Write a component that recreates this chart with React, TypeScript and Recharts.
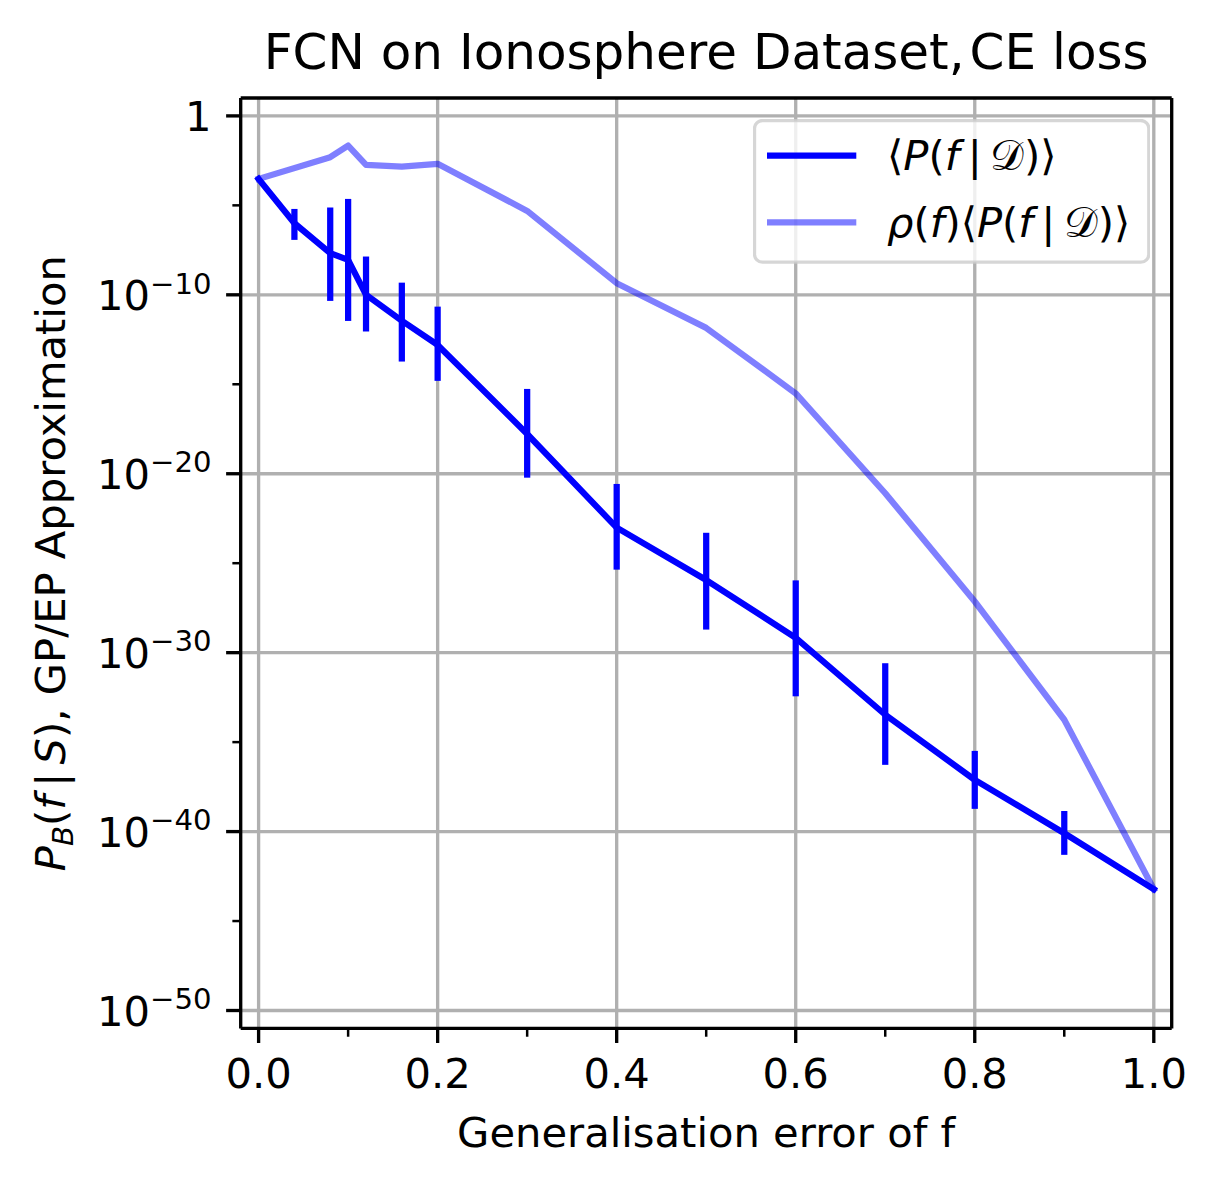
import React from 'react';
import { LineChart, Line, XAxis, YAxis, ErrorBar, ReferenceLine, Legend, Customized } from 'recharts';

// ---- data (y values are log10 of the probability) ----
const errorRate = [0, 0.04, 0.08, 0.1, 0.12, 0.16, 0.2, 0.3, 0.4, 0.5, 0.6, 0.7, 0.8, 0.9, 1.0];
const meanLogP = [-3.52, -6.0, -7.67, -8.05, -10.0, -11.45, -12.8, -17.78, -23.01, -25.94, -29.17, -33.47, -37.11, -40.09, -43.22];
const errTopLogP = [null, -5.2, -5.12, -4.64, -7.86, -9.32, -10.66, -15.26, -20.57, -23.3, -25.96, -30.59, -35.49, -38.85, null];
const errBottomLogP = [null, -6.93, -10.34, -11.46, -12.05, -13.73, -14.81, -20.22, -25.36, -28.71, -32.44, -36.27, -38.73, -41.3, null];
const rhoLogP = [-3.52, null, -2.31, -1.66, -2.74, -2.83, -2.68, -5.31, -9.35, -11.85, -15.51, -21.09, -27.14, -33.75, -43.22];

const xTicks = [0, 0.1, 0.2, 0.3, 0.4, 0.5, 0.6, 0.7, 0.8, 0.9, 1.0];
const xMajorTicks = [0, 0.2, 0.4, 0.6, 0.8, 1.0];
const yTicks = [0, -5, -10, -15, -20, -25, -30, -35, -40, -45, -50];
const yMajorTicks = [0, -10, -20, -30, -40, -50];

const title = 'FCN on Ionosphere Dataset,\u200aCE loss';
const xLabel = 'Generalisation error of f';

const data = errorRate.map((x, i) => {
  const top = errTopLogP[i];
  const bottom = errBottomLogP[i];
  return {
    x,
    mean: meanLogP[i],
    rho: rhoLogP[i],
    err: top == null || bottom == null ? undefined : [meanLogP[i] - bottom, top - meanLogP[i]],
  };
});

// ---- layout ----
const FONT = '"DejaVu Sans", sans-serif';
const PT = 300 / 72;
const TICK_FS = 10 * PT;
const TITLE_FS = 12 * PT;
const W = 1200;
const H = 1173;
const M_TOP = 90;
const M_RIGHT = 36.3;
const Y_AXIS_W = 232.7;
const X_AXIS_H = 152.6;
const PLOT_L = Y_AXIS_W;
const PLOT_R = W - M_RIGHT;
const PLOT_T = M_TOP;
const PLOT_B = H - X_AXIS_H;
const PLOT_CX = (PLOT_L + PLOT_R) / 2;
const PLOT_CY = (PLOT_T + PLOT_B) / 2;

const BLUE = '#0000ff';
const GRID = '#b0b0b0';
const SPINE_W = 0.8 * PT;
const LINE_W = 1.5 * PT;
const MAJOR_LEN = 3.5 * PT;
const MINOR_LEN = 2 * PT;

const XTick = (props: any) => {
  const { x, y, payload } = props;
  const v = payload.value;
  const major = xMajorTicks.some((m) => Math.abs(m - v) < 1e-9);
  return (
    <g>
      <line x1={x} x2={x} y1={y} y2={y + (major ? MAJOR_LEN : MINOR_LEN)} stroke="#000" strokeWidth={major ? SPINE_W : 0.6 * PT} />
      {major && (
        <text x={x} y={y + 2 * MAJOR_LEN + 30.4} textAnchor="middle" fontFamily={FONT} fontSize={TICK_FS} fill="#000">
          {v.toFixed(1)}
        </text>
      )}
    </g>
  );
};

const YTick = (props: any) => {
  const { x, y, payload } = props;
  const v = payload.value;
  const major = yMajorTicks.includes(v);
  return (
    <g>
      <line x1={x - (major ? MAJOR_LEN : MINOR_LEN)} x2={x} y1={y} y2={y} stroke="#000" strokeWidth={major ? SPINE_W : 0.6 * PT} />
      {major && (
        <text x={x - 2 * MAJOR_LEN} y={y + 15.4} textAnchor="end" fontFamily={FONT} fontSize={TICK_FS} fill="#000">
          {v === 0 ? (
            '1'
          ) : (
            <>
              <tspan>10</tspan>
              <tspan fontSize={TICK_FS * 0.7} dy={-16.7}>{'\u2212' + Math.abs(v)}</tspan>
            </>
          )}
        </text>
      )}
    </g>
  );
};

const Texts = () => (
  <g>
    <text x={PLOT_CX} y={61} textAnchor="middle" fontFamily={FONT} fontSize={TITLE_FS} fill="#000">
      {title}
    </text>
    <text x={PLOT_CX} y={1139} textAnchor="middle" fontFamily={FONT} fontSize={TICK_FS} fill="#000">
      {xLabel}
    </text>
    <text
      x={57}
      y={PLOT_CY}
      transform={`rotate(-90, 57, ${PLOT_CY})`}
      textAnchor="middle"
      fontFamily={FONT}
      fontSize={TICK_FS}
      fill="#000"
    >
      <tspan fontStyle="italic">P</tspan>
      <tspan fontStyle="italic" fontSize={TICK_FS * 0.7} dy={8}>B</tspan>
      <tspan dy={-8}>(</tspan>
      <tspan fontStyle="italic">f</tspan>
      <tspan>{'\u2009|\u2009'}</tspan>
      <tspan fontStyle="italic">S</tspan>
      <tspan>), GP/EP Approximation</tspan>
    </text>
  </g>
);

const LEG_W = 397.3;
const LEG_H = 144.7;

const LegendBox = () => (
  <svg width={LEG_W} height={LEG_H} style={{ display: 'block' }}>
    <rect x={1.5} y={1.5} width={LEG_W - 3} height={LEG_H - 3} rx={8} ry={8} fill="#ffffff" fillOpacity={0.8} stroke="#cccccc" strokeOpacity={0.8} strokeWidth={3.3} />
    <line x1={14} x2={103.3} y1={36.7} y2={36.7} stroke={BLUE} strokeWidth={LINE_W} />
    <line x1={14} x2={103.3} y1={103.4} y2={103.4} stroke={BLUE} strokeOpacity={0.5} strokeWidth={LINE_W} />
    <text x={134} y={51} fontFamily={FONT} fontSize={TICK_FS} fill="#000">
      <tspan>{'\u27e8'}</tspan>
      <tspan fontStyle="italic">P</tspan>
      <tspan>(</tspan>
      <tspan fontStyle="italic">f</tspan>
      <tspan>{'\u2009|\u2009'}</tspan>
      <tspan>{'\ud835\udc9f'}</tspan>
      <tspan>){'\u27e9'}</tspan>
    </text>
    <text x={134} y={118} fontFamily={FONT} fontSize={TICK_FS} fill="#000">
      <tspan fontStyle="italic">{'\u03c1'}</tspan>
      <tspan>(</tspan>
      <tspan fontStyle="italic">f</tspan>
      <tspan>){'\u27e8'}</tspan>
      <tspan fontStyle="italic">P</tspan>
      <tspan>(</tspan>
      <tspan fontStyle="italic">f</tspan>
      <tspan>{'\u2009|\u2009'}</tspan>
      <tspan>{'\ud835\udc9f'}</tspan>
      <tspan>){'\u27e9'}</tspan>
    </text>
  </svg>
);

export default function App() {
  return (
    <LineChart
      width={W}
      height={H}
      data={data}
      margin={{ top: M_TOP, right: M_RIGHT, bottom: 0, left: 0 }}
      style={{ fontFamily: FONT }}
    >
      <XAxis
        type="number"
        dataKey="x"
        domain={[-0.02, 1.02]}
        ticks={xTicks}
        interval={0}
        allowDataOverflow
        tick={<XTick />}
        tickLine={false}
        tickSize={0}
        tickMargin={0}
        height={X_AXIS_H}
        axisLine={{ stroke: '#000', strokeWidth: SPINE_W }}
      />
      <YAxis
        type="number"
        domain={[-51, 1]}
        ticks={yTicks}
        interval={0}
        allowDataOverflow
        tick={<YTick />}
        tickLine={false}
        tickSize={0}
        tickMargin={0}
        width={Y_AXIS_W}
        axisLine={{ stroke: '#000', strokeWidth: SPINE_W }}
      />
      {xMajorTicks.map((v) => (
        <ReferenceLine key={'gx' + v} x={v} stroke={GRID} strokeWidth={SPINE_W} />
      ))}
      {yMajorTicks.map((v) => (
        <ReferenceLine key={'gy' + v} y={v} stroke={GRID} strokeWidth={SPINE_W} />
      ))}
      <Line
        dataKey="mean"
        name="mean"
        stroke={BLUE}
        strokeWidth={LINE_W}
        dot={false}
        activeDot={false}
        isAnimationActive={false}
        strokeLinejoin="round"
        strokeLinecap="square"
      >
        <ErrorBar dataKey="err" direction="y" width={0} stroke={BLUE} strokeWidth={LINE_W} isAnimationActive={false} />
      </Line>
      <Line
        dataKey="rho"
        name="rho"
        stroke={BLUE}
        strokeOpacity={0.5}
        strokeWidth={LINE_W}
        dot={false}
        activeDot={false}
        connectNulls
        isAnimationActive={false}
        strokeLinejoin="round"
        strokeLinecap="square"
      />
      <ReferenceLine y={1} stroke="#000" strokeWidth={SPINE_W} />
      <ReferenceLine x={1.02} stroke="#000" strokeWidth={SPINE_W} />
      <Customized component={Texts} />
      <Legend
        layout="horizontal"
        verticalAlign="middle"
        align="center"
        content={LegendBox}
        wrapperStyle={{ position: 'absolute', left: 744.7, top: 111.3, width: LEG_W, height: LEG_H, margin: 0 }}
      />
    </LineChart>
  );
}
